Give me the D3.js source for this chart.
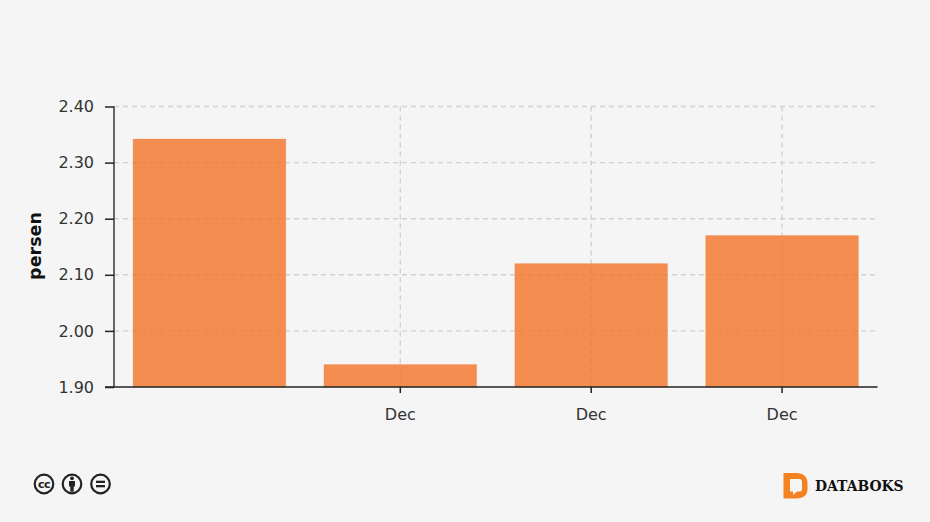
<!DOCTYPE html>
<html><head><meta charset="utf-8">
<script src="https://cdn.jsdelivr.net/npm/d3@7/dist/d3.min.js"></script>
<style>
html,body{margin:0;padding:0;background:#f5f5f5;overflow:hidden}
svg{display:block}
text{font-family:"DejaVu Sans",sans-serif;fill:#333}
</style></head><body>
<svg id="c" width="930" height="522"></svg>
<script>
const categoryIds = ["a","b","c","d"];
const categoryLabels = ["", "Dec", "Dec", "Dec"];
const seriesValues = [2.342, 1.94, 2.12, 2.17];
const yTicks = [1.9, 2.0, 2.1, 2.2, 2.3, 2.4];
const yTitle = "persen";
const brandName = "DATABOKS";

const svg = d3.select("#c");
const x = d3.scaleBand().domain(categoryIds).range([114, 877.500]).paddingInner(0.2).paddingOuter(0.1);
const y = d3.scaleLinear().domain([1.9, 2.4]).range([387, 106.5]);
const labelOf = id => categoryLabels[categoryIds.indexOf(id)];
const labelled = categoryIds.filter(id => labelOf(id) !== "");
const cx = id => x(id) + x.bandwidth() / 2;

// grid
const grid = svg.append("g").attr("stroke", "#d2d2d2").attr("stroke-width", 1.4).attr("stroke-dasharray", "5 4");
grid.selectAll("line.h").data(yTicks.slice(1)).join("line").attr("class", "h")
  .attr("x1", 114).attr("x2", 875).attr("y1", d => y(d)).attr("y2", d => y(d));
grid.selectAll("line.v").data(labelled).join("line").attr("class", "v")
  .attr("x1", cx).attr("x2", cx).attr("y1", 106.5).attr("y2", 387);

// bars
svg.append("g").selectAll("rect").data(categoryIds).join("rect")
  .attr("x", d => x(d)).attr("width", x.bandwidth())
  .attr("y", (d, i) => y(seriesValues[i])).attr("height", (d, i) => y(1.9) - y(seriesValues[i]))
  .attr("fill", "#f37021").attr("fill-opacity", 0.78)
  .attr("stroke", "#f37021").attr("stroke-opacity", 0.2);

// y axis
const yAxis = svg.append("g").attr("transform", "translate(114,0)")
  .call(d3.axisLeft(y).tickValues(yTicks).tickFormat(d3.format(".2f")).tickSize(9).tickPadding(11));
yAxis.selectAll("path").attr("stroke", "#444").attr("stroke-width", 1.6).attr("d", "M0,106.5V387");
yAxis.selectAll("line").attr("stroke", "#222").attr("stroke-width", 1.5);
yAxis.selectAll("text").attr("font-size", 16).attr("fill", "#333").style("font-family", '"DejaVu Sans",sans-serif');

// x axis
const xAxis = svg.append("g").attr("transform", "translate(0,387)")
  .call(d3.axisBottom(x).tickValues(labelled).tickFormat(labelOf).tickSize(6).tickPadding(16));
xAxis.selectAll("path").attr("stroke", "#222").attr("stroke-width", 1.6).attr("d", "M105,0H877.500");
xAxis.selectAll("line").attr("stroke", "#222").attr("stroke-width", 1.5);
xAxis.selectAll("text").attr("font-size", 16).attr("fill", "#333").style("font-family", '"DejaVu Sans",sans-serif');

// axis title
svg.append("text").attr("transform", "translate(41,246) rotate(-90)").attr("text-anchor", "middle")
  .attr("font-size", 17.5).attr("font-weight", "bold").style("fill", "#111").text(yTitle);

// licence icons
const icons = svg.append("g").attr("fill", "none").attr("stroke", "#222");
[44, 72, 100.5].forEach(cxi => icons.append("circle").attr("cx", cxi).attr("cy", 484).attr("r", 9.3).attr("stroke-width", 2.2));
svg.append("text").attr("x", 44).attr("y", 487.7).attr("text-anchor", "middle")
  .attr("font-size", 11).attr("font-weight", "bold").attr("letter-spacing", -0.4).style("fill", "#222").text("cc");
const p = svg.append("g").attr("fill", "#222");
p.append("circle").attr("cx", 72).attr("cy", 478.3).attr("r", 1.9);
p.append("path").attr("d", "M69 481h6v5.4h-1.3v5.4h-3.4v-5.4h-1.3z");
p.append("rect").attr("x", 96).attr("y", 480.7).attr("width", 9).attr("height", 2.3);
p.append("rect").attr("x", 96).attr("y", 485).attr("width", 9).attr("height", 2.3);

// brand logo
svg.append("path").attr("fill", "#f58220").attr("fill-rule", "evenodd")
  .attr("d", "M783.5 473h13c7 0 11 4 11 10v6c0 6-4 9.500-11 9.500h-13zM790 479v12.500h3v3.500l4-3.500h3c1.500 0 2-1 2-2.500v-7.500c0-1.500-.8-2.500-2.500-2.500z");
svg.append("text").attr("x", 815).attr("y", 491).attr("font-size", 13.9).attr("font-weight", "bold")
  .style("fill", "#111").style("font-family", '"DejaVu Serif",serif').text(brandName);
</script>
</body></html>
